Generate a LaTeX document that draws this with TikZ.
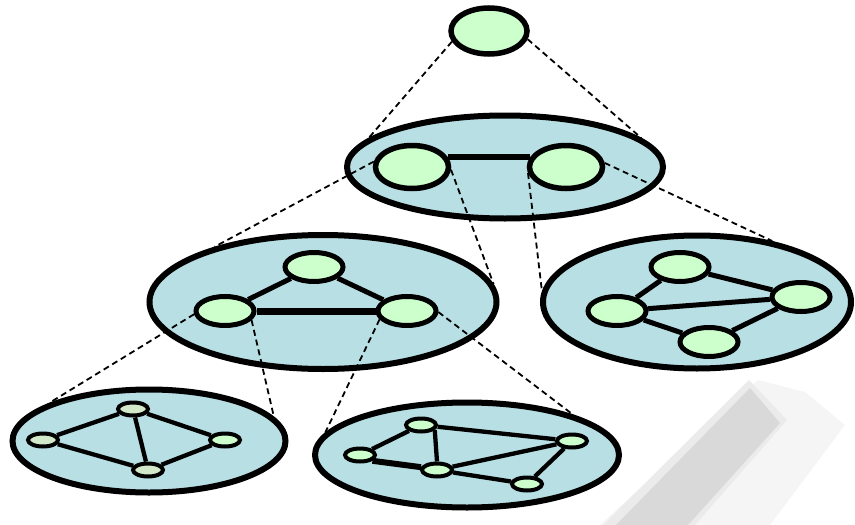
\documentclass[tikz,border=0pt]{standalone}
\usetikzlibrary{shapes.geometric}
\definecolor{platecol}{HTML}{B8E0E4}
\definecolor{vertcol}{HTML}{CCFFCC}
\definecolor{palecol}{HTML}{D3E8C8}
\begin{document}
\begin{tikzpicture}[x=1pt,y=-1pt,
  plate/.style={ellipse,draw=black,fill=platecol,line width=6pt,inner sep=0pt},
  vbig/.style={ellipse,draw=black,fill=vertcol,line width=5.5pt,inner sep=0pt,minimum width=73pt,minimum height=43pt},
  vmid/.style={ellipse,draw=black,fill=vertcol,line width=5pt,inner sep=0pt,minimum width=58pt,minimum height=29pt},
  vsmall/.style={ellipse,draw=black,fill=vertcol,line width=4pt,inner sep=0pt,minimum width=30pt,minimum height=13pt},
  edgeline/.style={line width=5pt},
  thinedge/.style={line width=4.3pt},
  hier/.style={line width=1.8pt,dash pattern=on 6pt off 4pt}]
\useasboundingbox (0,0) rectangle (855,525);
% soft shadow
\fill[black!4] (758,380) -- (805,392) -- (845,425) -- (770,525) -- (600,525) -- cycle;
\fill[black!8] (749,380) -- (787,420) -- (695,525) -- (603,525) -- cycle;
\fill[black!15] (750,388) -- (780,423) -- (688,525) -- (616,525) -- cycle;
% level 1
\node[vbig,minimum width=76pt,minimum height=46pt] (T) at (489,31) {};
% level 2
\node[plate,minimum width=316pt,minimum height=103pt] (L2) at (505,167) {};
\node[vbig] (A) at (412,167) {};
\node[vbig] (B) at (566,167) {};
\draw[line width=6pt] (A.15) -- (B.165);
% level 3 left
\node[plate,minimum width=347pt,minimum height=134pt] (L3a) at (323,302) {};
\node[vmid] (a1) at (314,267) {};
\node[vmid] (a2) at (225,311) {};
\node[vmid] (a3) at (407,311) {};
\draw[edgeline] (a1) -- (a2);
\draw[edgeline] (a1) -- (a3);
\draw[line width=7pt] (a2) -- (a3);
% level 3 right
\node[plate,minimum width=308pt,minimum height=133pt] (L3b) at (697,302) {};
\node[vmid] (b1) at (680,267) {};
\node[vmid] (b2) at (617,311) {};
\node[vmid] (b3) at (801,297) {};
\node[vmid] (b4) at (709,342) {};
\draw[edgeline] (b1) -- (b2);
\draw[edgeline] (b1) -- (b3);
\draw[edgeline] (b2) -- (b3);
\draw[edgeline] (b2) -- (b4);
\draw[edgeline] (b4) -- (b3);
% level 4 left
\node[plate,minimum width=273pt,minimum height=103pt] (L4a) at (149,441) {};
\node[vsmall,fill=palecol] (c1) at (133,409) {};
\node[vsmall,fill=palecol] (c2) at (43,440) {};
\node[vsmall] (c3) at (225,440) {};
\node[vsmall,fill=palecol] (c4) at (148,470) {};
\draw[thinedge] (c1) -- (c2);
\draw[thinedge] (c1) -- (c3);
\draw[thinedge] (c1) -- (c4);
\draw[thinedge] (c2) -- (c4);
\draw[thinedge] (c4) -- (c3);
% level 4 right
\node[plate,minimum width=304pt,minimum height=105pt] (L4b) at (467,455) {};
\node[vsmall] (d1) at (421,425) {};
\node[vsmall] (d2) at (360,455) {};
\node[vsmall] (d3) at (437,470) {};
\node[vsmall] (d4) at (572,441) {};
\node[vsmall] (d5) at (527,484) {};
\draw[thinedge] (d1) -- (d2);
\draw[thinedge] (d1.-20) -- (d3.north);
\draw[line width=6pt] (d2.-25) -- (d3.170);
\draw[thinedge] (d1) -- (d4);
\draw[thinedge] (d3) -- (d4);
\draw[thinedge] (d3) -- (d5);
\draw[thinedge] (d5) -- (d4);
% hierarchy (dashed)
\draw[hier] (T.196) -- (L2.168);
\draw[hier] (T.348) -- (L2.12.7);
\draw[hier] (A.172) -- (L3a.153);
\draw[hier] (A.356) -- (L3a.6.7);
\draw[hier] (B.189) -- (L3b.176);
\draw[hier] (B.6) -- (L3b.39);
\draw[hier] (a2.186) -- (L4a.159);
\draw[hier] (a2.341) -- (L4a.11);
\draw[hier] (a3.197) -- (L4b.171.5);
\draw[hier] (a3.358) -- (L4b.21);
\end{tikzpicture}
\end{document}
